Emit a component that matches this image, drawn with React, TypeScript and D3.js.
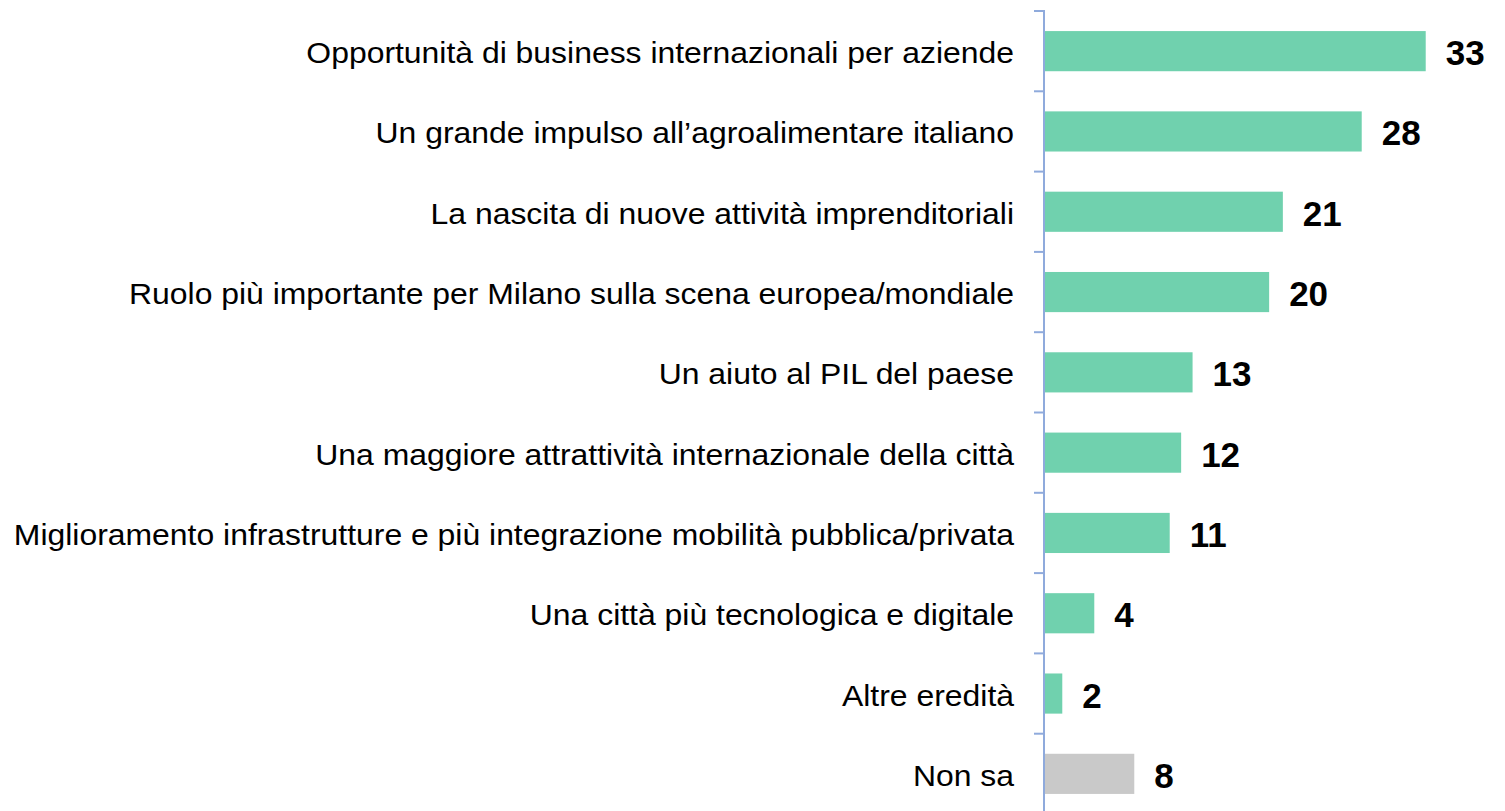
import React from "react";
import * as d3 from "d3";

const categories = [
  "Opportunità di business internazionali per aziende",
  "Un grande impulso all’agroalimentare italiano",
  "La nascita di nuove attività imprenditoriali ",
  "Ruolo più importante per Milano sulla scena europea/mondiale",
  "Un aiuto al PIL del paese",
  "Una maggiore attrattività internazionale della città",
  "Miglioramento infrastrutture e più integrazione mobilità pubblica/privata",
  "Una città più tecnologica e digitale",
  "Altre eredità",
  "Non sa",
];
const values = [33.4, 27.8, 20.9, 19.7, 13.0, 12.0, 11.0, 4.4, 1.6, 7.9];
const isNonSa = [false, false, false, false, false, false, false, false, false, true];

const W = 1505;
const H = 811;
const axisX = 1044;
const GREEN = "#70d1ae";
const GREY = "#c9c9c9";
const AXIS = "#8faadc";

export default function App() {
  const y = d3
    .scaleBand<string>()
    .domain(categories)
    .range([11, 814])
    .paddingInner(0.5)
    .paddingOuter(0.25);
  const x = d3.scaleLinear().domain([0, 35]).range([axisX, axisX + 400]);
  const fmt = d3.format(".0f");
  const step = y.step();
  const tickYs = categories.map((_, i) => 11 + i * step);

  return (
    <svg
      width={W}
      height={H}
      style={{ position: "absolute", left: 0, top: 0, background: "#fff" }}
      fontFamily="'Liberation Sans', Arial, sans-serif"
    >
      {categories.map((c, i) => {
        const yy = y(c)!;
        const cy = yy + y.bandwidth() / 2;
        return (
          <g key={c}>
            <rect
              x={x(0)}
              y={yy}
              width={x(values[i]) - x(0)}
              height={y.bandwidth()}
              fill={isNonSa[i] ? GREY : GREEN}
            />
            <text
              transform={`translate(${axisX - 30},${cy + 12}) scale(1.082,1)`}
              textAnchor="end"
              fontSize={29.5}
              fill="#000"
            >
              {c}
            </text>
            <text
              x={x(values[i]) + 20}
              y={cy + 14}
              fontSize={35}
              fontWeight="bold"
              fill="#000"
            >
              {fmt(values[i])}
            </text>
          </g>
        );
      })}
      <line x1={axisX} x2={axisX} y1={10} y2={H} stroke={AXIS} strokeWidth={2} />
      {tickYs.map((t, i) => (
        <line key={i} x1={axisX - 10} x2={axisX} y1={t} y2={t} stroke={AXIS} strokeWidth={2} />
      ))}
    </svg>
  );
}
